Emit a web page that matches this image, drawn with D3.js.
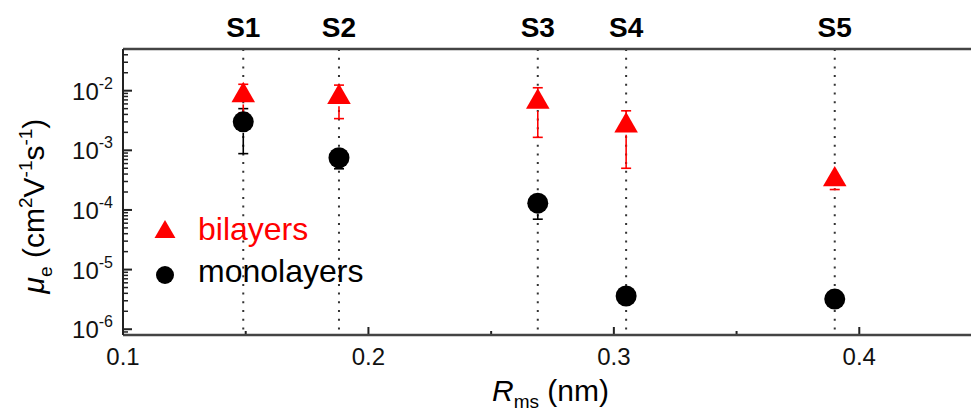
<!DOCTYPE html>
<html>
<head>
<meta charset="utf-8">
<script src="https://cdn.jsdelivr.net/npm/d3@7"></script>
<style>
  html, body { margin: 0; padding: 0; background: #fff; }
  svg { display: block; font-family: "Liberation Sans", Arial, sans-serif; }
</style>
</head>
<body>
<svg id="chart" width="971" height="414"></svg>
<script>
// Samples and their roughness (nm)
const samples = ["S1", "S2", "S3", "S4", "S5"];
const roughness = [0.149, 0.188, 0.269, 0.305, 0.390];

// Electron mobility (cm^2 V^-1 s^-1) with error-bar bounds
const bilayerMu   = [9.0e-3, 8.4e-3, 7.0e-3, 2.8e-3, 3.5e-4];
const bilayerHigh = [1.28e-2, 1.24e-2, 1.12e-2, 4.6e-3, 3.5e-4];
const bilayerLow  = [4.2e-3, 3.4e-3, 1.65e-3, 5.0e-4, 2.2e-4];

const monoMu   = [3.0e-3, 7.5e-4, 1.3e-4, 3.6e-6, 3.2e-6];
const monoHigh = [5.0e-3, 7.5e-4, 1.3e-4, 3.6e-6, 3.2e-6];
const monoLow  = [8.8e-4, 4.9e-4, 7.0e-5, 3.6e-6, 3.2e-6];

const xTicks = [0.1, 0.2, 0.3, 0.4];
const xMinorTicks = [0.15, 0.25, 0.35];
const yExponents = [-2, -3, -4, -5, -6];

const svg = d3.select("#chart");
const pLeft = 123, pRight = 982, pTop = 49, pBottom = 335;

const x = d3.scaleLinear().domain([0.1, 0.45]).range([pLeft, pRight]);
const y = d3.scaleLog().domain([8e-7, 0.05]).range([pBottom, pTop]);

// Vertical dotted guides through each sample
svg.append("g").selectAll("line").data(roughness).join("line")
  .attr("x1", d => x(d)).attr("x2", d => x(d))
  .attr("y1", pTop).attr("y2", pBottom)
  .attr("stroke", "#333").attr("stroke-width", 2)
  .attr("stroke-dasharray", "2,6.7");

// Sample labels above the frame
svg.append("g").selectAll("text").data(samples).join("text")
  .attr("x", (d, i) => x(roughness[i]))
  .attr("y", 37)
  .attr("text-anchor", "middle")
  .attr("font-weight", "bold")
  .attr("font-size", 28)
  .attr("fill", "#000")
  .text(d => d);

// Bottom axis: inward ticks
const xAxis = svg.append("g").attr("transform", `translate(0,${pBottom})`);
xAxis.selectAll("line.major").data(xTicks).join("line").attr("class", "major")
  .attr("x1", d => x(d)).attr("x2", d => x(d)).attr("y1", 0).attr("y2", -8)
  .attr("stroke", "#222").attr("stroke-width", 2);
xAxis.selectAll("line.minor").data(xMinorTicks).join("line").attr("class", "minor")
  .attr("x1", d => x(d)).attr("x2", d => x(d)).attr("y1", 0).attr("y2", -4)
  .attr("stroke", "#222").attr("stroke-width", 2);
xAxis.selectAll("text").data(xTicks).join("text")
  .attr("x", d => x(d)).attr("y", 30)
  .attr("text-anchor", "middle").attr("font-size", 24).attr("fill", "#111")
  .text(d => d3.format(".1f")(d));

// Left axis: log ticks
const yAxis = svg.append("g").attr("transform", `translate(${pLeft},0)`);
const [ymin, ymax] = y.domain();
const minorVals = [];
for (let e = -7; e <= -1; e++) {
  for (let m = 2; m <= 9; m++) {
    const v = m * Math.pow(10, e);
    if (v > ymin && v < ymax) minorVals.push(v);
  }
}
yAxis.selectAll("line.minor").data(minorVals).join("line").attr("class", "minor")
  .attr("x1", 0).attr("x2", 5).attr("y1", d => y(d)).attr("y2", d => y(d))
  .attr("stroke", "#222").attr("stroke-width", 1.5);
yAxis.selectAll("line.major").data(yExponents).join("line").attr("class", "major")
  .attr("x1", 0).attr("x2", 9).attr("y1", d => y(Math.pow(10, d))).attr("y2", d => y(Math.pow(10, d)))
  .attr("stroke", "#222").attr("stroke-width", 2);
const yLab = yAxis.selectAll("text").data(yExponents).join("text")
  .attr("x", -10).attr("y", d => y(Math.pow(10, d)) + 9)
  .attr("text-anchor", "end").attr("font-size", 24).attr("fill", "#111");
yLab.append("tspan").text("10");
yLab.append("tspan").attr("dy", -11).attr("font-size", 16).text(d => String(d));

// Frame
svg.append("line").attr("x1", pLeft).attr("x2", pRight).attr("y1", pTop).attr("y2", pTop)
  .attr("stroke", "#444").attr("stroke-width", 2.5);
svg.append("line").attr("x1", pLeft).attr("x2", pRight).attr("y1", pBottom).attr("y2", pBottom)
  .attr("stroke", "#444").attr("stroke-width", 2.5);
svg.append("line").attr("x1", pLeft).attr("x2", pLeft).attr("y1", pTop).attr("y2", pBottom)
  .attr("stroke", "#222").attr("stroke-width", 2);

// Error bars (drawn with a small gap below the marker)
function errorBars(mu, hi, lo, color, half) {
  const g = svg.append("g").attr("stroke", color).attr("stroke-width", 1.6);
  roughness.forEach((r, i) => {
    const cx = x(r), cy = y(mu[i]);
    const yHi = y(hi[i]), yLo = y(lo[i]);
    if (yLo > cy + half + 6) {
      g.append("line").attr("x1", cx).attr("x2", cx).attr("y1", cy + half + 6).attr("y2", yLo);
      g.append("line").attr("x1", cx - 5).attr("x2", cx + 5).attr("y1", yLo).attr("y2", yLo);
    } else if (yLo > cy) {
      g.append("line").attr("x1", cx).attr("x2", cx).attr("y1", cy).attr("y2", yLo);
    }
    if (yHi < cy - 1) {
      g.append("line").attr("x1", cx).attr("x2", cx).attr("y1", cy).attr("y2", yHi);
      g.append("line").attr("x1", cx - 5).attr("x2", cx + 5).attr("y1", yHi).attr("y2", yHi);
    }
  });
}
errorBars(monoMu, monoHigh, monoLow, "#000", 5);
errorBars(bilayerMu, bilayerHigh, bilayerLow, "#ff0000", 5);

// Markers
const tri = d3.symbol().type(d3.symbolTriangle).size(240);
svg.append("g").selectAll("circle").data(monoMu).join("circle")
  .attr("cx", (d, i) => x(roughness[i])).attr("cy", d => y(d))
  .attr("r", 10.5).attr("fill", "#000");
svg.append("g").selectAll("path").data(bilayerMu).join("path")
  .attr("transform", (d, i) => `translate(${x(roughness[i])},${y(d) + 2})`)
  .attr("d", tri).attr("fill", "#ff0000");

// Legend
const leg = svg.append("g");
leg.append("path").attr("transform", "translate(165,232)")
  .attr("d", d3.symbol().type(d3.symbolTriangle).size(190)).attr("fill", "#ff0000");
leg.append("text").attr("x", 198).attr("y", 240).attr("font-size", 32).attr("fill", "#ff0000").text("bilayers");
leg.append("circle").attr("cx", 165).attr("cy", 275).attr("r", 9).attr("fill", "#000");
leg.append("text").attr("x", 198).attr("y", 282).attr("font-size", 32).attr("fill", "#000").text("monolayers");

// Axis titles
const xt = svg.append("text").attr("x", 492).attr("y", 401).attr("font-size", 30).attr("fill", "#000");
xt.append("tspan").attr("font-style", "italic").text("R");
xt.append("tspan").attr("dy", 7).attr("font-size", 19).text("ms");
xt.append("tspan").attr("dy", -7).text(" (nm)");

const yt = svg.append("text").attr("transform", "translate(44,206) rotate(-90)")
  .attr("text-anchor", "middle").attr("font-size", 30).attr("fill", "#000");
yt.append("tspan").attr("font-style", "italic").text("μ");
yt.append("tspan").attr("dy", 8).attr("font-size", 19).text("e");
yt.append("tspan").attr("dy", -8).text(" (cm");
yt.append("tspan").attr("dy", -12).attr("font-size", 19).text("2");
yt.append("tspan").attr("dy", 12).text("V");
yt.append("tspan").attr("dy", -12).attr("font-size", 19).text("-1");
yt.append("tspan").attr("dy", 12).text("s");
yt.append("tspan").attr("dy", -12).attr("font-size", 19).text("-1");
yt.append("tspan").attr("dy", 12).text(")");
</script>
</body>
</html>
